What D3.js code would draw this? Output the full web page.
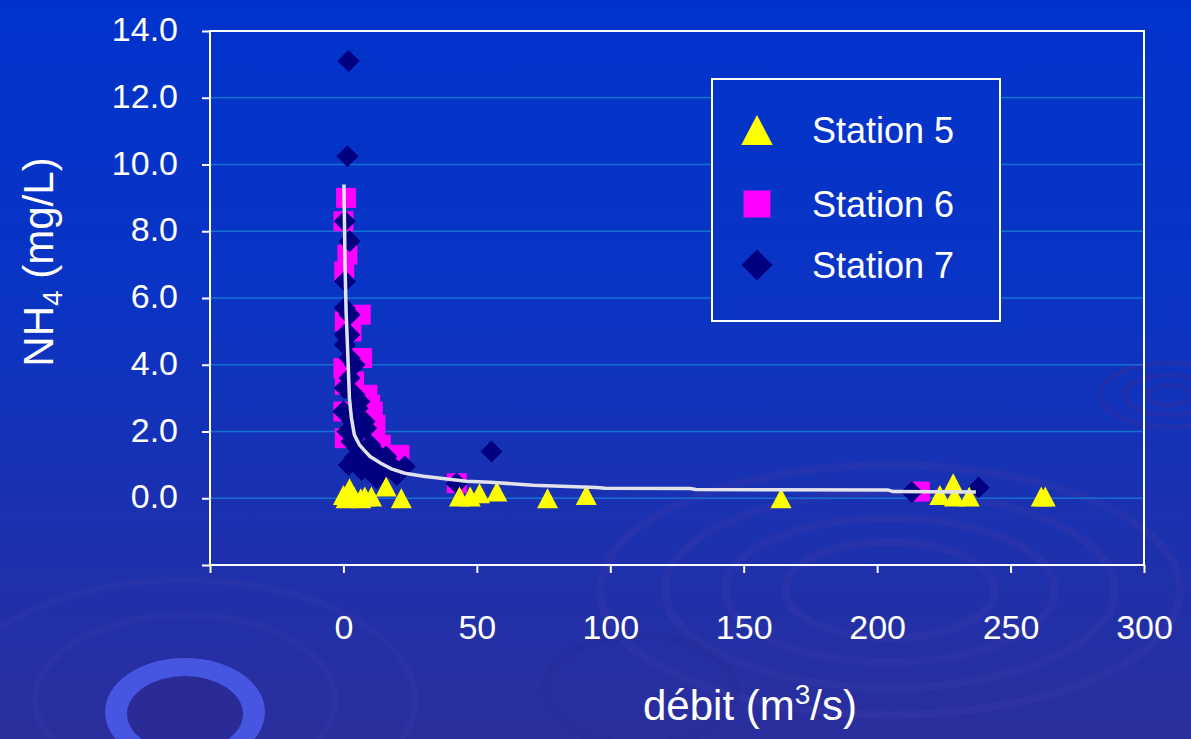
<!DOCTYPE html>
<html>
<head>
<meta charset="utf-8">
<script src="https://cdn.jsdelivr.net/npm/d3@7"></script>
<style>
  html, body { margin: 0; padding: 0; background: #1a33b8; }
  svg { display: block; font-family: "Liberation Sans", Arial, sans-serif; }
  .axis text { fill: #fff; font-size: 34px; }
  .axis path, .axis line { stroke: #fff; stroke-width: 2; }
  .grid line { stroke: #1470d2; stroke-width: 1.5; }
  .title { fill: #fff; font-size: 42px; }
  .legend text { fill: #fff; font-size: 36px; }
</style>
</head>
<body>
<svg id="chart" width="1191" height="739"></svg>
<script>
// débit (m3/s), NH4 (mg/L)
var station5 = [[0,0.1],[1,0.0],[2.3,0.3],[4,0.05],[6.5,0.0],[8,0.05],[10.5,0.05],[16,0.35],[21.7,0.0],
  [43.5,0.05],[47.5,0.05],[51,0.15],[57.5,0.2],[76.5,0.0],[91,0.1],[164,0.0],[223.5,0.1],[228.5,0.45],
  [229,0.05],[234.5,0.05],[261.5,0.05],[263,0.05]];
var station6 = [[1,9.0],[0,8.3],[1.5,7.3],[0.3,6.8],[6.5,5.5],[0.5,5.3],[3,5.0],[7,4.2],[0,3.9],[4,3.5],
  [0.5,3.4],[9,3.1],[10,2.8],[11,2.6],[0,2.6],[12,2.2],[11.5,2.0],[0.5,1.8],[14,1.6],[18,1.2],[21,1.3],
  [42.5,0.45],[216,0.2]];
var station7 = [[1.9,13.1],[1.5,10.25],[0.5,8.3],[2.3,7.7],[0.6,6.5],[0.5,5.7],[2.3,5.5],[0.5,4.9],[2.2,4.9],
  [0.5,4.6],[2.3,4.2],[4.2,4.0],[2.3,3.6],[0.5,3.3],[4.2,3.1],[0,2.6],[5.3,2.7],[7.9,2.3],[8.5,2.1],[1.5,2.0],
  [3,1.7],[5.3,1.5],[9,1.35],[16,1.25],[11.5,1.05],[6.8,0.85],[15.5,0.85],[12.5,0.6],[23,0.95],[42.4,0.44],
  [55.5,1.4],[213,0.19],[238,0.32],[6,2.0],[10,1.6],[13,1.3],[7,1.1],[10,0.8],[18,1.0],[20,0.7],[4,1.2],
  [2,1.0],[3.5,2.3],[6,2.9]];
var trend = [[0.2,9.4],[0.6,7.0],[1.0,5.6],[1.4,4.8],[2.25,3.0],[3,2.4],[4.1,1.9],[6,1.6],[8,1.42],[10,1.25],
  [14,1.05],[18,0.88],[23,0.75],[30,0.66],[46,0.51],[55,0.48],[71,0.39],[95,0.32],[98,0.3],[130,0.29],
  [132,0.26],[204,0.25],[206,0.2],[237,0.19]];
var xTicks = [-50, 0, 50, 100, 150, 200, 250, 300];
var yTicks = [-2, 0, 2, 4, 6, 8, 10, 12, 14];
var seriesNames = ["Station 5", "Station 6", "Station 7"];

var svg = d3.select("#chart");
var W = 1191, H = 739;
var plot = {left: 210, right: 1144, top: 31, bottom: 565};

var defs = svg.append("defs");
var grad = defs.append("linearGradient").attr("id", "bg")
    .attr("gradientUnits", "userSpaceOnUse")
    .attr("x1", 0).attr("y1", 0).attr("x2", 0).attr("y2", H);
grad.append("stop").attr("offset", 0).attr("stop-color", "#0033cc");
grad.append("stop").attr("offset", 0.4).attr("stop-color", "#0a34c4");
grad.append("stop").attr("offset", 1).attr("stop-color", "#2b2e9c");

svg.append("rect").attr("width", W).attr("height", H).attr("fill", "url(#bg)");

// ripple decoration
var deco = svg.append("g").attr("fill", "none");
[[890, 590, 290, 125], [890, 590, 225, 98], [890, 590, 165, 72], [890, 590, 105, 48], [640, 690, 95, 55]]
  .forEach(function(r, i) {
    deco.append("ellipse").attr("cx", r[0]).attr("cy", r[1]).attr("rx", r[2]).attr("ry", r[3])
        .attr("stroke", i == 4 ? "#262a95" : "#3a3aa8").attr("stroke-width", 8).attr("opacity", 0.35);
  });
[[1170, 395, 70, 32], [1170, 395, 45, 20], [1170, 395, 22, 10]].forEach(function(r) {
  deco.append("ellipse").attr("cx", r[0]).attr("cy", r[1]).attr("rx", r[2]).attr("ry", r[3])
      .attr("stroke", "#2a2fa6").attr("stroke-width", 5).attr("opacity", 0.6);
});
[[185, 700, 230, 120], [185, 700, 150, 85]].forEach(function(r) {
  deco.append("ellipse").attr("cx", r[0]).attr("cy", r[1]).attr("rx", r[2]).attr("ry", r[3])
      .attr("stroke", "#3439a8").attr("stroke-width", 7).attr("opacity", 0.35);
});
deco.append("ellipse").attr("cx", 185).attr("cy", 712).attr("rx", 80).attr("ry", 54)
    .attr("fill", "#4656e0");
deco.append("ellipse").attr("cx", 185).attr("cy", 714).attr("rx", 58).attr("ry", 38)
    .attr("fill", "#2a2b96");

var x = d3.scaleLinear().domain([-50, 300]).range([plot.left, plot.right]);
var y = d3.scaleLinear().domain([-2, 14]).range([plot.bottom, plot.top]);

// gridlines
svg.append("g").attr("class", "grid").selectAll("line")
    .data(yTicks.filter(function(d) { return d > -2 && d < 14; }))
  .enter().append("line")
    .attr("x1", plot.left).attr("x2", plot.right)
    .attr("y1", function(d) { return y(d); }).attr("y2", function(d) { return y(d); });

// plot frame
svg.append("rect")
    .attr("x", plot.left).attr("y", plot.top)
    .attr("width", plot.right - plot.left).attr("height", plot.bottom - plot.top)
    .attr("fill", "none").attr("stroke", "#fff").attr("stroke-width", 2);

svg.append("g")
    .attr("class", "axis axis--x")
    .attr("transform", "translate(0," + plot.bottom + ")")
    .call(d3.axisBottom(x).tickValues(xTicks).tickSize(8).tickPadding(42)
      .tickFormat(function(d) { return d < 0 ? "" : d; }))
    .call(function(g) { g.select(".domain").remove(); });

svg.append("g")
    .attr("class", "axis axis--y")
    .attr("transform", "translate(" + plot.left + ",0)")
    .call(d3.axisLeft(y).tickValues(yTicks).tickSize(8).tickPadding(24)
      .tickFormat(function(d) { return d < 0 ? "" : d3.format(".1f")(d); }))
    .call(function(g) { g.select(".domain").remove(); g.selectAll("text").attr("dy", "0.28em"); });

// marker shapes
function triangle(s) { var h = s / 2; return "M0," + (-h) + "L" + (h * 1.05) + "," + h + "L" + (-h * 1.05) + "," + h + "Z"; }
function square(s) { var h = s / 2; return "M" + (-h) + "," + (-h) + "H" + h + "V" + h + "H" + (-h) + "Z"; }
function diamond(s) { var h = s / 2; return "M0," + (-h) + "L" + h + ",0L0," + h + "L" + (-h) + ",0Z"; }

var series = [
  {data: station6, shape: square, size: 20, color: "#ff00ff"},
  {data: station7, shape: diamond, size: 22, color: "#000080"},
  {data: station5, shape: triangle, size: 20, color: "#ffff00"}
];

series.forEach(function(s) {
  svg.append("g").selectAll("path")
      .data(s.data)
    .enter().append("path")
      .attr("transform", function(d) { return "translate(" + x(d[0]) + "," + y(d[1]) + ")"; })
      .attr("d", s.shape(s.size))
      .attr("fill", s.color);
});

// trend line
svg.append("path")
    .datum(trend)
    .attr("fill", "none")
    .attr("stroke", "#e2e2ea")
    .attr("stroke-width", 3.5)
    .attr("d", d3.line().x(function(d) { return x(d[0]); }).y(function(d) { return y(d[1]); }));

// legend
var legend = svg.append("g").attr("class", "legend");
legend.append("rect")
    .attr("x", 712).attr("y", 79).attr("width", 288).attr("height", 242)
    .attr("fill", "url(#bg)").attr("stroke", "#fff").attr("stroke-width", 2);
var legendItems = [
  {name: seriesNames[0], shape: triangle, size: 30, color: "#ffff00", cy: 130},
  {name: seriesNames[1], shape: square, size: 27, color: "#ff00ff", cy: 204},
  {name: seriesNames[2], shape: diamond, size: 31, color: "#000080", cy: 265}
];
legendItems.forEach(function(d) {
  legend.append("path")
      .attr("transform", "translate(757," + d.cy + ")")
      .attr("d", d.shape(d.size)).attr("fill", d.color);
  legend.append("text")
      .attr("x", 812).attr("y", d.cy + 13)
      .text(d.name);
});

// axis titles
var xt = svg.append("text").attr("class", "title")
    .attr("x", 750).attr("y", 720).attr("text-anchor", "middle");
xt.append("tspan").text("débit (m");
xt.append("tspan").attr("dy", -16).attr("font-size", 28).text("3");
xt.append("tspan").attr("dy", 16).text("/s)");

var yt = svg.append("text").attr("class", "title")
    .attr("transform", "translate(53,262) rotate(-90)")
    .attr("text-anchor", "middle");
yt.append("tspan").text("NH");
yt.append("tspan").attr("dy", 9).attr("font-size", 28).text("4");
yt.append("tspan").attr("dy", -9).text(" (mg/L)");
</script>
</body>
</html>
